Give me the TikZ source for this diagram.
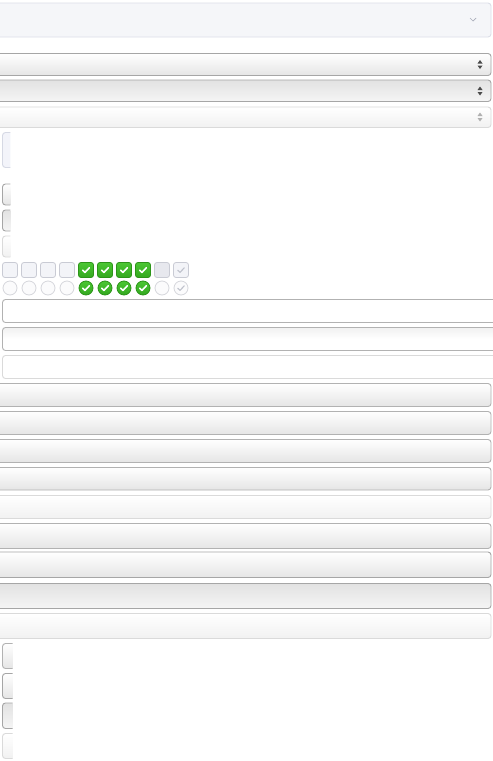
\documentclass[tikz,border=0pt]{standalone}
\definecolor{topfill}{HTML}{F5F6F9}
\definecolor{topbdr}{HTML}{DCDFE8}
\definecolor{bdr}{HTML}{B2B2B2}
\definecolor{bdrd}{HTML}{A6A6A6}
\definecolor{bdrl}{HTML}{DADADA}
\definecolor{gbot}{HTML}{E5E5E5}
\definecolor{glight}{HTML}{F1F1F1}
\definecolor{gpress}{HTML}{E2E2E2}
\definecolor{gpressb}{HTML}{F5F5F5}
\definecolor{arrowc}{HTML}{4A4A4A}
\definecolor{arrowl}{HTML}{B0B0B0}
\definecolor{chev}{HTML}{A9ADBA}
\definecolor{cbfill}{HTML}{F3F4F8}
\definecolor{cbbdr}{HTML}{C9CBD4}
\definecolor{cbgrey}{HTML}{E7E8EE}
\definecolor{gtop}{HTML}{4BC633}
\definecolor{gbt}{HTML}{33A81F}
\definecolor{gbdr}{HTML}{2C9419}
\definecolor{rdbdr}{HTML}{D6D7DC}
\definecolor{rdfill}{HTML}{FBFBFC}
\definecolor{dischk}{HTML}{BFC2CC}
\definecolor{tafill}{HTML}{F3F4FA}
\definecolor{tabdr}{HTML}{D6D9E4}
\tikzset{
  ctl/.style={rounded corners=3pt, line width=0.9pt},
  btn/.style={ctl, draw=bdr, top color=white, bottom color=gbot},
  btnlight/.style={ctl, draw=bdrl, top color=white, bottom color=glight},
  btnpress/.style={ctl, draw=bdrd, top color=gpress, bottom color=gpressb},
  btnstrong/.style={ctl, draw=bdrd, top color=white, bottom color=gbot},
  inbox/.style={ctl, draw=bdr, fill=white},
  inboxlight/.style={ctl, draw=bdrl, fill=white},
  cb/.style={rounded corners=2.5pt, line width=0.8pt, draw=cbbdr, fill=cbfill},
  cbgreen/.style={rounded corners=2.5pt, line width=0.8pt, draw=gbdr, top color=gtop, bottom color=gbt},
  rd/.style={line width=0.8pt, draw=rdbdr, fill=rdfill},
  rdgreen/.style={line width=0.8pt, draw=gbdr, top color=gtop, bottom color=gbt},
  chk/.style={white, line width=1.6pt, line cap=round, line join=round},
  chkdis/.style={dischk, line width=1.1pt, line cap=round, line join=round},
}
\newcommand{\mychk}[3]{\draw[#3] (#1-3.3,#2+0.2) -- (#1-1,#2+2.4) -- (#1+3.3,#2-2.2);}
\begin{document}
\begin{tikzpicture}[x=1pt,y=-1pt]
\useasboundingbox (0,0) rectangle (493,761);
\clip (0,0) rectangle (493,761);
\fill[white] (0,0) rectangle (493,761);
% top select-like box
\draw[ctl, draw=topbdr, fill=topfill] (-6,3) rectangle (491,37);
\draw[chev, line width=0.7pt] (470,18) -- (473,21) -- (476,18);
% selects
\draw[btnstrong] (-6,53.5) rectangle (491,75.5);
\draw[btnpress] (-6,80) rectangle (491,101.5);
\draw[btnlight] (-6,107) rectangle (491,127.5);
\foreach \yy/\cc in {64.5/arrowc, 91/arrowc, 117/arrowl}{
  \fill[\cc] (477.5,\yy-1) -- (482.5,\yy-1) -- (480,\yy-4.5) -- cycle;
  \fill[\cc] (477.5,\yy+1) -- (482.5,\yy+1) -- (480,\yy+4.5) -- cycle;
}
% cropped textarea
\begin{scope}
\clip (0,125) rectangle (10.3,170);
\draw[ctl, draw=tabdr, fill=tafill] (2.5,132.5) rectangle (30,167.5);
\end{scope}
% cropped small controls
\begin{scope}
\clip (0,180) rectangle (10.3,260);
\draw[btnstrong] (2.5,184) rectangle (30,205);
\draw[btnpress] (2.5,210) rectangle (30,231);
\draw[btnlight] (2.5,236) rectangle (30,257);
\end{scope}
% checkboxes and radios
\foreach \i in {0,1,2,3}{
  \draw[cb] (2.5+19*\i,262.5) rectangle (17.5+19*\i,277.5);
  \draw[rd] (10+19*\i,288) circle (7);
}
\foreach \i in {4,5,6,7}{
  \draw[cbgreen] (2.5+19*\i,262.5) rectangle (17.5+19*\i,277.5);
  \mychk{10+19*\i}{270}{chk}
  \draw[rdgreen] (10+19*\i,288) circle (7);
  \mychk{10+19*\i}{288}{chk}
}
\draw[cb, fill=cbgrey] (2.5+19*8,262.5) rectangle (17.5+19*8,277.5);
\draw[rd] (10+19*8,288) circle (7);
\draw[cb] (2.5+19*9,262.5) rectangle (17.5+19*9,277.5);
\mychk{10+19*9}{270}{chkdis}
\draw[rd] (10+19*9,288) circle (7);
\mychk{10+19*9}{288}{chkdis}
% text inputs
\draw[inbox] (2.5,299.5) rectangle (530,322.5);
\draw[ctl, draw=bdr, top color=glight, bottom color=white, middle color=white] (2.5,327.5) rectangle (530,350.5);
\draw[inboxlight] (2.5,355.5) rectangle (530,378.5);
% buttons
\draw[btn] (-6,383.5) rectangle (491,406.5);
\draw[btn] (-6,411.5) rectangle (491,434.5);
\draw[btn] (-6,439.5) rectangle (491,462.5);
\draw[btn] (-6,467.5) rectangle (491,490);
\draw[btnlight] (-6,495.5) rectangle (491,518.5);
\draw[btn] (-6,523.5) rectangle (491,548.5);
\draw[btnstrong] (-6,552) rectangle (491,577.5);
\draw[btnpress] (-6,583.5) rectangle (491,608.5);
\draw[btnlight] (-6,613.5) rectangle (491,638.5);
% cropped small buttons
\begin{scope}
\clip (0,640) rectangle (12.7,761);
\draw[btn] (2.5,643.5) rectangle (30,668.5);
\draw[btnstrong] (2.5,673.5) rectangle (30,698.5);
\draw[btnpress] (2.5,703) rectangle (30,728.5);
\draw[btnlight] (2.5,733.5) rectangle (30,758.5);
\end{scope}
\end{tikzpicture}
\end{document}
